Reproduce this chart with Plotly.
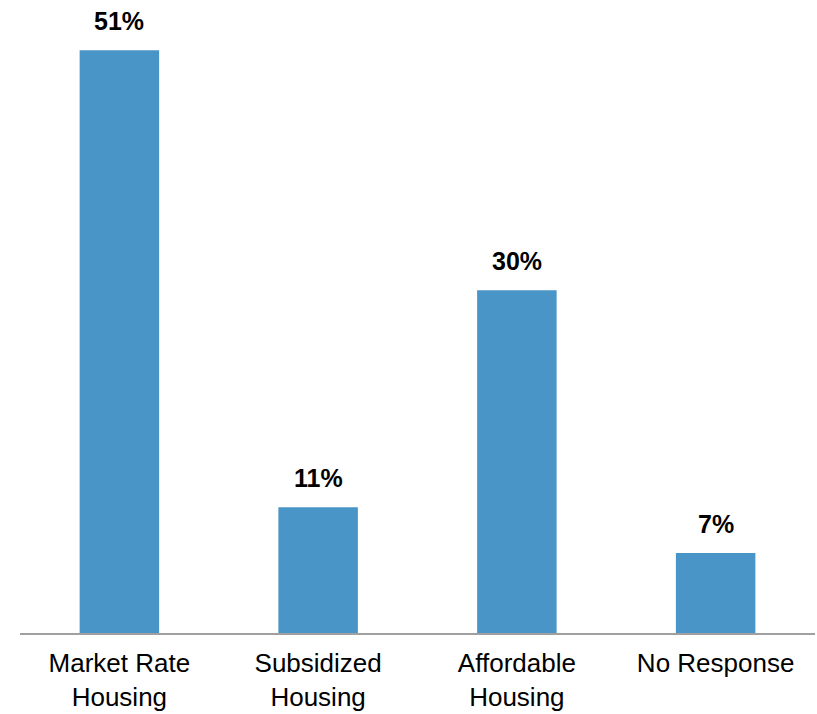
import plotly.graph_objects as go

# Survey responses: preferred housing type
categories = ["Market Rate<br>Housing", "Subsidized<br>Housing", "Affordable<br>Housing", "No Response"]
shares = [51, 11, 30, 7]

bar_color = "#4A95C7"
font_family = "Liberation Sans, Arial, sans-serif"

fig = go.Figure(
    go.Bar(
        x=categories,
        y=shares,
        marker=dict(color=bar_color, line=dict(width=0)),
        hoverinfo="skip",
    )
)

# Value labels above each bar
for cat, val in zip(categories, shares):
    fig.add_annotation(
        x=cat, y=val, text=f"<b>{val}%</b>",
        showarrow=False, yanchor="bottom", yshift=13,
        font=dict(family=font_family, size=25, color="#000000"),
    )

fig.update_layout(
    width=817, height=714,
    margin=dict(l=20, r=2, t=0, b=81),
    paper_bgcolor="white", plot_bgcolor="white",
    bargap=0.6,
    showlegend=False,
    font=dict(family=font_family, size=26, color="#000000"),
    xaxis=dict(
        showline=True, linecolor="#A0A0A0", linewidth=2,
        showgrid=False, ticks="", ticklabelstandoff=6,
        tickfont=dict(family=font_family, size=26, color="#000000"),
    ),
    yaxis=dict(
        range=[0, 55.4], visible=False, showgrid=False, zeroline=False,
    ),
)

fig.write_html("out.html")
